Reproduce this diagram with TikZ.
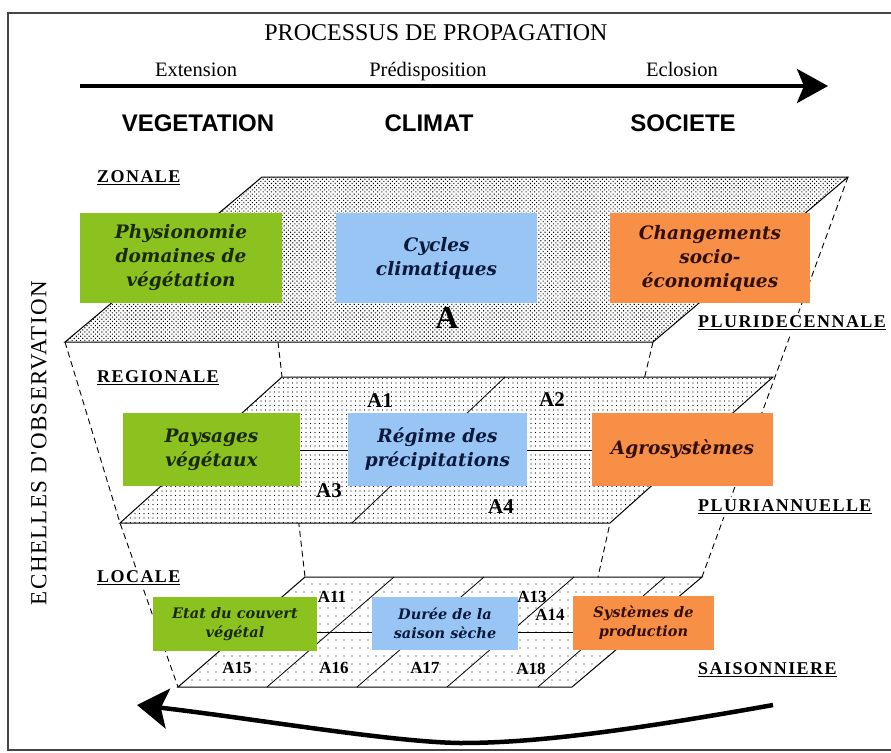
\documentclass[tikz,border=0pt]{standalone}
\usepackage{fontspec}
\setmainfont{Liberation Serif}
\newfontfamily\sansfont{Liberation Sans}
\newfontfamily\boxfont{DejaVu Serif}
\newfontfamily\lblfont{Liberation Serif}[LetterSpace=8]
\newfontfamily\axisfont{Liberation Serif}[LetterSpace=6]
\usetikzlibrary{arrows.meta,patterns.meta,calc,positioning}
\definecolor{vegcol}{RGB}{140,194,31}
\definecolor{climcol}{RGB}{153,197,245}
\definecolor{soccol}{RGB}{247,143,70}
\definecolor{framecol}{RGB}{70,70,70}

\begin{document}
\begin{tikzpicture}[x=1pt,y=-1pt]
	\tikzstyle{every node}=[inner sep=0pt]
	\tikzstyle{plane}=[draw=black, line width=1pt]
	\tikzstyle{guide}=[line width=0.9pt, dash pattern=on 6pt off 4pt]
	\tikzstyle{theme}=[anchor=base, font=\sansfont\bfseries\fontsize{24}{28}\selectfont]
	\tikzstyle{stage}=[anchor=base, font=\fontsize{20.5}{24}\selectfont]
	\tikzstyle{levellbl}=[fill=white, inner sep=3pt, anchor=west, font=\lblfont\bfseries\fontsize{18}{20}\selectfont]
	\tikzstyle{cell}=[font=\bfseries\fontsize{21}{23}\selectfont]
	\tikzstyle{smallcell}=[font=\bfseries\fontsize{17}{19}\selectfont]
	\tikzstyle{bigbox}=[align=center, font=\boxfont\bfseries\itshape\fontsize{18.5}{24}\selectfont]
	\tikzstyle{smallbox}=[align=center, font=\boxfont\bfseries\itshape\fontsize{14.5}{19}\selectfont]
	\useasboundingbox (0,0) rectangle (891,752);
	\draw [line width=2pt, framecol] (8,13) rectangle (897,750);

	% process axis
	\node [font=\fontsize{24}{28}\selectfont] (proc) at (436,33) {PROCESSUS DE PROPAGATION};
	\node [stage] (ext) at (196,77) {Extension};
	\node [stage] (pre) at (428,77) {Prédisposition};
	\node [stage] (ecl) at (682,77) {Eclosion};
	\coordinate (pstart) at (80,86);
	\coordinate (pend) at (828,86);
	\draw [line width=4.5pt, -{Stealth[length=31pt, width=34pt, inset=7pt]}] (pstart) -- (pend);
	\node [theme] (veg) at (198,131) {VEGETATION};
	\node [theme] (clim) at (429,131) {CLIMAT};
	\node [theme] (soc) at (683,131) {SOCIETE};

	% observation axis
	\node [rotate=90, font=\axisfont\fontsize{23}{26}\selectfont] (obs) at (39,443) {ECHELLES D'OBSERVATION};

	% plane corners
	\coordinate (zbl) at (65,342);
	\coordinate (zbr) at (653,342);
	\coordinate (ztr) at (848,177);
	\coordinate (ztl) at (262,177);
	\coordinate (rbl) at (120,523);
	\coordinate (rbr) at (610,523);
	\coordinate (rtr) at (773,377);
	\coordinate (rtl) at (282,377);
	\coordinate (lbl) at (178,687);
	\coordinate (lbr) at (572,687);
	\coordinate (ltr) at (702,577);
	\coordinate (ltl) at (305,577);

	% dashed guides between levels
	\draw [guide] (zbl) -- (rbl) -- (lbl);
	\draw [guide] (278,342) -- (ltl);
	\draw [guide] (zbr) -- (rbr) -- (598,577);
	\draw [guide] (ztr) -- (ltr);

	% zonale
	\fill [white] (zbl) -- (zbr) -- (ztr) -- (ztl) -- cycle;
	\fill [pattern={Dots[distance=3pt, radius=0.75pt, angle=45]}, pattern color=black] (zbl) -- (zbr) -- (ztr) -- (ztl) -- cycle;
	\draw [plane] (zbl) -- (zbr) -- (ztr) -- (ztl) -- cycle;

	% regionale
	\fill [white] (rbl) -- (rbr) -- (rtr) -- (rtl) -- cycle;
	\fill [pattern={Dots[distance=4.5pt, radius=0.7pt]}, pattern color=black] (rbl) -- (rbr) -- (rtr) -- (rtl) -- cycle;
	\draw [plane] (rbl) -- (rbr) -- (rtr) -- (rtl) -- cycle;
	\draw [line width=0.8pt] ($(rbl)!.5!(rtl)$) -- ($(rbr)!.5!(rtr)$);
	\draw [line width=0.8pt] (505,377) -- (352,523);

	% locale
	\fill [white] (lbl) -- (lbr) -- (ltr) -- (ltl) -- cycle;
	\fill [pattern={Dots[distance=8pt, radius=0.7pt]}, pattern color=black] (lbl) -- (lbr) -- (ltr) -- (ltl) -- cycle;
	\draw [plane] (lbl) -- (lbr) -- (ltr) -- (ltl) -- cycle;
	\draw [line width=0.8pt] ($(lbl)!.5!(ltl)$) -- ($(lbr)!.5!(ltr)$);
	\foreach \b in {267,357,447,538}
		\draw [line width=0.8pt] (\b,687) -- (\b+127,577);

	% boxes
	\node [bigbox, fill=vegcol, text={rgb,255:red,25;green,40;blue,5}, minimum width=202pt, minimum height=90pt] (zveg) at (181,258) {Physionomie\\domaines de\\végétation};
	\node [bigbox, fill=climcol, text={rgb,255:red,10;green,25;blue,60}, minimum width=201pt, minimum height=90pt] (zclim) at (436.5,258) {Cycles\\climatiques};
	\node [bigbox, fill=soccol, text={rgb,255:red,50;green,15;blue,5}, minimum width=200pt, minimum height=90pt] (zsoc) at (710,258) {Changements\\socio-\\économiques};
	\node [bigbox, fill=vegcol, text={rgb,255:red,25;green,40;blue,5}, minimum width=177pt, minimum height=73pt] (rveg) at (211.5,449.5) {Paysages\\végétaux};
	\node [bigbox, fill=climcol, text={rgb,255:red,10;green,25;blue,60}, minimum width=179pt, minimum height=73pt] (rclim) at (437.5,449.5) {Régime des\\précipitations};
	\node [bigbox, fill=soccol, text={rgb,255:red,50;green,15;blue,5}, minimum width=181pt, minimum height=73pt] (rsoc) at (682.5,449.5) {Agrosystèmes};
	\node [smallbox, fill=vegcol, text={rgb,255:red,25;green,40;blue,5}, minimum width=164pt, minimum height=54pt] (lveg) at (235,624) {Etat du couvert\\végétal};
	\node [smallbox, fill=climcol, text={rgb,255:red,10;green,25;blue,60}, minimum width=146pt, minimum height=53pt] (lclim) at (445,623.5) {Durée de la\\saison sèche};
	\node [smallbox, fill=soccol, text={rgb,255:red,50;green,15;blue,5}, minimum width=141pt, minimum height=54pt] (lsoc) at (643.5,623) {Systèmes de\\production};

	% cells
	\node [font=\bfseries\fontsize{32}{34}\selectfont] (ca) at (447,318) {A};
	\node [cell] (ca1) at (380,401) {A1};
	\node [cell] (ca2) at (552,400) {A2};
	\node [cell] (ca3) at (329,491) {A3};
	\node [cell] (ca4) at (501,507) {A4};
	\node [smallcell] (ca11) at (332,597) {A11};
	\node [smallcell] (ca13) at (532,597) {A13};
	\node [smallcell] (ca14) at (550,615) {A14};
	\node [smallcell] (ca15) at (237,668) {A15};
	\node [smallcell] (ca16) at (334,668) {A16};
	\node [smallcell] (ca17) at (425,668) {A17};
	\node [smallcell] (ca18) at (531,669) {A18};

	% level labels
	\node [levellbl] (zon) at (94,178) {\underline{ZONALE}};
	\node [levellbl] (reg) at (94,378) {\underline{REGIONALE}};
	\node [levellbl] (loc) at (94,578) {\underline{LOCALE}};
	\node [levellbl] (plud) at (695,323) {\underline{PLURIDECENNALE}};
	\node [levellbl] (plua) at (695,507) {\underline{PLURIANNUELLE}};
	\node [levellbl] (sais) at (695,670) {\underline{SAISONNIERE}};

	% return arrow
	\coordinate (rstart) at (773,705);
	\coordinate (rend) at (137,705);
	\draw [line width=4.5pt, -{Stealth[length=31pt, width=40pt, inset=7pt]}] (rstart) .. controls (600,736) and (520,743) .. (460,743) .. controls (390,742) and (250,718) .. (rend);
\end{tikzpicture}
\end{document}
